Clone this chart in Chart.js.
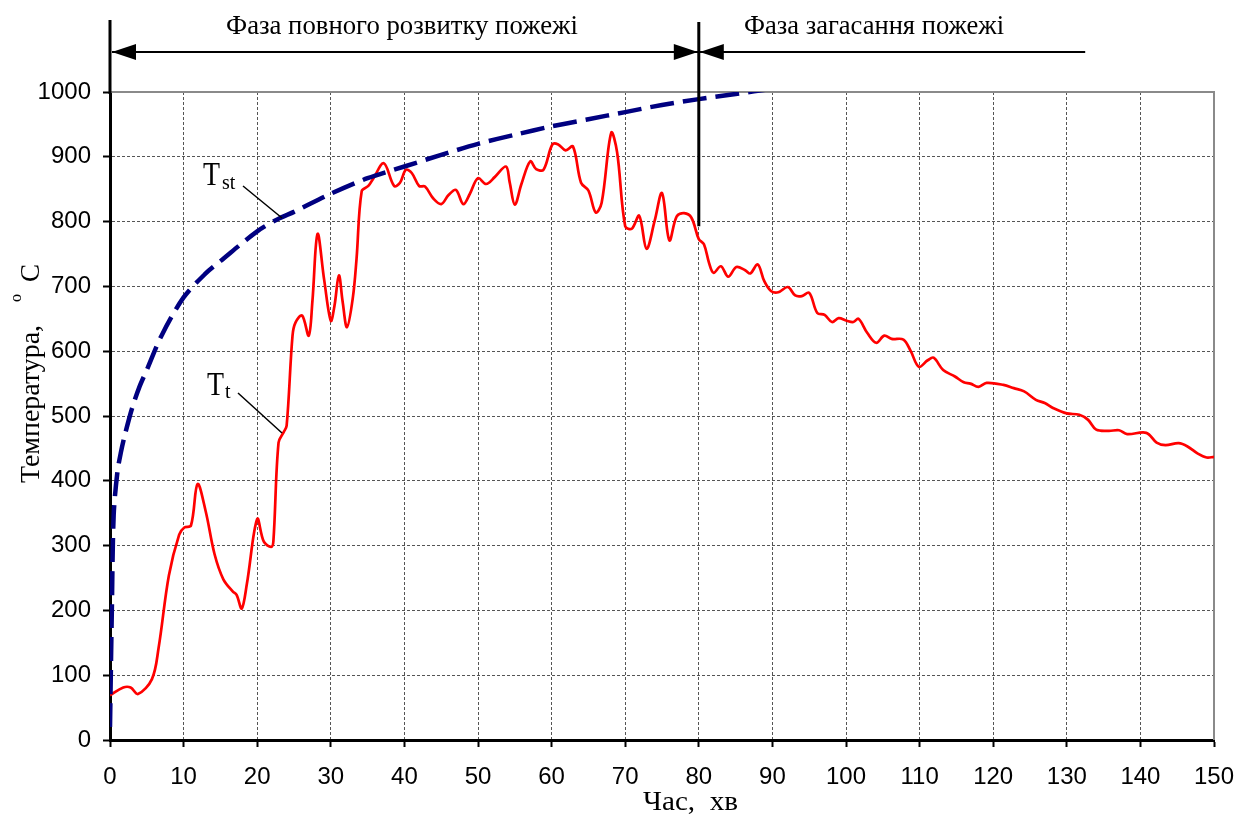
<!DOCTYPE html>
<html>
<head>
<meta charset="utf-8">
<script src="https://cdn.jsdelivr.net/npm/chart.js@4.4.1/dist/chart.umd.min.js"></script>
<style>
html, body { margin: 0; padding: 0; background: #fff; }
#wrap { width: 1244px; height: 817px; position: relative; }
</style>
</head>
<body>
<div id="wrap"><canvas id="chart"></canvas></div>
<script>
// measured fire temperature T_t (minutes, degC)
const timeT = [0, 1.8, 2.8, 3.8, 5.7, 6.6, 8, 9.4, 10.1, 11, 11.9, 13, 14.2, 15.4, 16.7, 17.2, 17.9, 18.6, 20, 20.9,
  21.9, 22.2, 22.9, 23.6, 24, 24.8, 25.2, 26.1, 27, 27.5, 28.2, 29.1, 30, 30.5, 31.1, 31.6, 32.2, 33, 33.5, 34.2,
  35.1, 35.8, 37.2, 38.6, 39.4, 40.2, 41, 42, 42.8, 43.9, 45, 46, 47, 48, 48.9, 50, 51.1, 52.3, 53.8, 54.3,
  55, 55.9, 57.1, 57.9, 58.9, 60.1, 60.9, 61.9, 62.9, 64, 65, 66, 66.8, 68.1, 68.9, 70, 70.9, 71.9, 72.9, 74,
  75, 76, 77, 78, 79, 80, 80.7, 81.4, 82, 83, 84, 85.1, 86.3, 87, 88, 88.9, 89.8, 90.8, 92.1, 93.1,
  94, 95, 96.1, 97.1, 98.1, 99, 100.1, 101, 101.7, 102.9, 104.1, 105.2, 106.2, 107.8, 108.8, 109.9, 111.1, 111.9, 113.2, 114.8,
  116, 116.9, 118, 119.1, 121.4, 122.8, 124.2, 125.8, 127, 128.2, 130, 131.7, 132.9, 134, 135.7, 137.1, 138.2, 140.8, 142.2, 143.4,
  145.2, 146.4, 147.8, 149, 150]
const tempT = [69, 81, 81, 71, 94, 142, 254, 317, 328, 331, 395, 353, 287, 248, 229, 224, 203, 241, 341, 306,
  298, 307, 459, 475, 485, 624, 644, 655, 624, 677, 781, 710, 647, 670, 717, 677, 637, 683, 743, 847,
  855, 867, 890, 855, 860, 880, 875, 855, 854, 836, 827, 841, 849, 827, 843, 867, 858, 869, 885, 861,
  826, 858, 893, 881, 880, 919, 919, 910, 916, 860, 848, 814, 829, 937, 907, 793, 789, 809, 758, 801,
  844, 771, 808, 813, 806, 773, 765, 736, 721, 731, 715, 730, 725, 720, 734, 708, 693, 691, 699, 686,
  685, 690, 659, 656, 645, 651, 647, 645, 650, 628, 613, 624, 619, 618, 600, 576, 586, 590, 571, 561,
  552, 550, 545, 551, 548, 543, 538, 525, 520, 512, 504, 502, 494, 479, 477, 478, 472, 474, 459, 455,
  458, 453, 442, 436, 437]

// standard fire curve T_st
const timeSt = [0, 0.25, 0.5, 1, 1.5, 2, 3, 4, 5, 7, 10, 13, 15, 20, 23, 25, 30, 35, 40, 45, 50, 55, 60, 65, 70, 75, 80, 85, 90]
const tempSt = [20, 200, 347, 413, 445, 470, 512, 545, 571, 624, 683, 720, 739, 785, 805, 815, 843, 867, 885, 903, 920, 934, 947, 958, 969, 980, 989, 997, 1005]

const xTicks = [0, 10, 20, 30, 40, 50, 60, 70, 80, 90, 100, 110, 120, 130, 140, 150]
const yTicks = [0, 100, 200, 300, 400, 500, 600, 700, 800, 900, 1000]

const phaseLabels = ["Фаза повного розвитку пожежі", "Фаза загасання пожежі"]
const phaseSplit = 80
const xTitle = "Час,  хв"
const yTitle = "Температура,"

const serif = "'Liberation Serif', 'Times New Roman', serif"

// draw text squeezed/stretched to a given width
const fitText = function(ctx, text, x, y, w, font){
    ctx.save()
    ctx.font = font
    const m = ctx.measureText(text).width
    ctx.translate(x, y)
    ctx.scale(w / m, 1)
    ctx.textAlign = "left"
    ctx.textBaseline = "alphabetic"
    ctx.fillText(text, 0, 0)
    ctx.restore()
}

const arrow = function(ctx, tipX, y, dir){
    ctx.beginPath()
    ctx.moveTo(tipX, y)
    ctx.lineTo(tipX - dir * 24, y - 8)
    ctx.lineTo(tipX - dir * 24, y + 8)
    ctx.closePath()
    ctx.fill()
}

const extras = {
    id: "extras",
    beforeDatasetsDraw(chart){
        const {ctx, chartArea: a} = chart
        ctx.save()
        ctx.strokeStyle = "#8a8a8a"
        ctx.lineWidth = 2
        ctx.beginPath()
        ctx.moveTo(a.left, a.top)
        ctx.lineTo(a.right, a.top)
        ctx.lineTo(a.right, a.bottom)
        ctx.stroke()
        ctx.restore()
    },
    afterDraw(chart){
        const {ctx, chartArea: a} = chart
        const xs = chart.scales.x, ys = chart.scales.y
        const x0 = xs.getPixelForValue(0)
        const xp = xs.getPixelForValue(phaseSplit)
        ctx.save()
        ctx.fillStyle = "#000"
        ctx.strokeStyle = "#000"

        // extended y axis and phase boundary
        ctx.lineWidth = 3
        ctx.beginPath()
        ctx.moveTo(x0, 20)
        ctx.lineTo(x0, a.top + 2)
        ctx.moveTo(xp, 22)
        ctx.lineTo(xp, ys.getPixelForValue(793))
        ctx.stroke()

        // arrows
        const ay = 52
        ctx.lineWidth = 2
        ctx.beginPath()
        ctx.moveTo(x0 + 2, ay)
        ctx.lineTo(xp, ay)
        ctx.moveTo(xp, ay)
        ctx.lineTo(xs.getPixelForValue(132.5), ay)
        ctx.stroke()
        arrow(ctx, x0 + 2, ay, -1)
        arrow(ctx, xp - 1, ay, 1)
        arrow(ctx, xp + 1, ay, -1)

        // phase captions
        fitText(ctx, phaseLabels[0], 226, 34, 352, "27px " + serif)
        fitText(ctx, phaseLabels[1], 744, 34, 260, "27px " + serif)

        // axis titles
        fitText(ctx, xTitle, 643, 810, 95, "27px " + serif)
        ctx.save()
        ctx.translate(39, 483)
        ctx.rotate(-Math.PI / 2)
        fitText(ctx, yTitle, 0, 0, 158, "27px " + serif)
        ctx.font = "16px " + serif
        ctx.fillText("o", 181, -18)
        ctx.font = "27px " + serif
        ctx.fillText("C", 201, 0)
        ctx.restore()

        // series labels with leaders
        fitText(ctx, "T", 203, 185, 17, "33px " + serif)
        fitText(ctx, "T", 207, 395, 17, "33px " + serif)
        ctx.font = "20px " + serif
        ctx.fillText("st", 222, 189)
        ctx.fillText("t", 225, 398)
        ctx.lineWidth = 1.5
        ctx.beginPath()
        ctx.moveTo(243, 186)
        ctx.lineTo(282, 218)
        ctx.moveTo(238, 393)
        ctx.lineTo(282, 433)
        ctx.stroke()
        ctx.restore()
    }
}

const tickFont = {family: "'Liberation Sans', Arial, sans-serif", size: 24}
const plainLabel = (v) => String(v)
const noOverhang = (s) => { s.paddingLeft = 0; s.paddingRight = 0; s.paddingTop = 0; s.paddingBottom = 0 }

new Chart(document.getElementById("chart"), {
    type: "line",
    data: {
        datasets: [
            {
                label: "Tst",
                data: timeSt.map((t, i) => ({x: t, y: tempSt[i]})),
                borderColor: "#000080",
                borderWidth: 4.5,
                borderDash: [24, 9],
                pointRadius: 0,
                tension: 0.3,
                fill: false,
                clip: 0
            },
            {
                label: "Tt",
                data: timeT.map((t, i) => ({x: t, y: tempT[i]})),
                borderColor: "#ff0000",
                borderWidth: 2.7,
                pointRadius: 0,
                tension: 0.35,
                fill: false
            }
        ]
    },
    options: {
        responsive: true,
        maintainAspectRatio: false,
        devicePixelRatio: 1,
        animation: false,
        layout: {padding: {top: 92, right: 30, left: 0, bottom: 0}},
        plugins: {legend: {display: false}, tooltip: {enabled: false}},
        scales: {
            x: {
                type: "linear",
                min: 0,
                max: 150,
                afterBuildTicks: (s) => { s.ticks = xTicks.map(v => ({value: v})) },
                afterFit: (s) => { s.height = 77; noOverhang(s) },
                ticks: {font: tickFont, color: "#000", padding: 16, maxRotation: 0, callback: plainLabel},
                grid: {color: "#555", lineWidth: 1, tickColor: "#000", tickWidth: 2, tickLength: 7, tickBorderDash: []},
                border: {color: "#000", width: 3, dash: [3, 2]}
            },
            y: {
                min: 0,
                max: 1000,
                afterBuildTicks: (s) => { s.ticks = yTicks.map(v => ({value: v})) },
                afterFit: (s) => { s.width = 110; noOverhang(s) },
                ticks: {font: tickFont, color: "#000", padding: 12, callback: plainLabel},
                grid: {color: "#555", lineWidth: 1, tickColor: "#000", tickWidth: 2, tickLength: 7, tickBorderDash: []},
                border: {color: "#000", width: 3, dash: [3, 2]}
            }
        }
    },
    plugins: [extras]
})
</script>
</body>
</html>
